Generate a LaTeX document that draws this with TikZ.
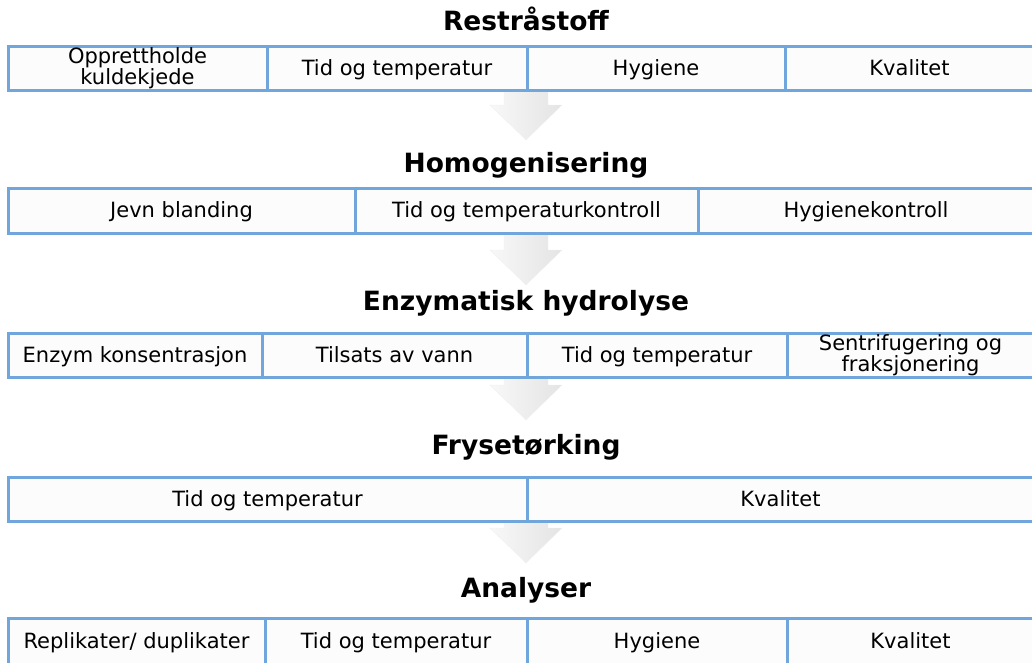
\documentclass[tikz,border=0pt]{standalone}
\usepackage{fontspec}
\setmainfont{DejaVu Sans}
\definecolor{cellline}{RGB}{112,166,219}
\definecolor{cellfill}{RGB}{252,252,252}
\definecolor{arrowlight}{RGB}{248,248,248}
\definecolor{arrowdark}{RGB}{228,228,228}
\tikzset{
  cell/.style={draw=cellline, line width=3pt, fill=cellfill, inner sep=0pt,
    minimum height=44pt, align=center, text=black,
    font=\fontsize{21}{21}\selectfont,
    text height=17.5pt, text depth=3pt},
  twoline/.style={text height=, text depth=,
    execute at begin node=\rule{0pt}{17pt},
    execute at end node=\rule[-3pt]{0pt}{3pt}},
  stage/.style={inner sep=0pt, text=black, font=\fontsize{26.5}{28}\selectfont\bfseries},
  flowarrow/.style={left color=arrowlight, right color=arrowdark, draw=white!94!black, line width=0.4pt}
}
% downward block arrow: #1 = top of shaft, #2 = tip
\newcommand{\blockarrow}[2]{%
  \path[flowarrow] (504,#1) -- (548,#1) -- (548,#2-35) -- (562,#2-35) -- (526,#2)
    -- (490,#2-35) -- (504,#2-35) -- cycle;}
\begin{document}
\begin{tikzpicture}[x=1pt,y=-1pt]
\useasboundingbox (0,0) rectangle (1032,662);

% arrows between the stages (behind the rows)
\blockarrow{88}{140}
\blockarrow{231}{285}
\blockarrow{375}{420}
\blockarrow{519}{563}

% stage 1
\node[stage] (t1) at (526,19) {Restråstoff};
\node[cell, twoline, minimum width=259pt] (c11) at (137.5,68) {Opprettholde\\kuldekjede};
\node[cell, minimum width=260pt] (c12) at (397,68) {Tid og temperatur};
\node[cell, minimum width=258pt] (c13) at (656,68) {Hygiene};
\node[cell, minimum width=249pt] (c14) at (909.5,68) {Kvalitet};

% stage 2
\node[stage] (t2) at (526,165) {Homogenisering};
\node[cell, minimum width=347pt, minimum height=45pt] (c21) at (181.5,210.5) {Jevn blanding};
\node[cell, minimum width=343pt, minimum height=45pt] (c22) at (526.5,210.5) {Tid og temperaturkontroll};
\node[cell, minimum width=336pt, minimum height=45pt] (c23) at (866,210.5) {Hygienekontroll};

% stage 3
\node[stage] (t3) at (526,303) {Enzymatisk hydrolyse};
\node[cell, minimum width=254pt] (c31) at (135,355) {Enzym konsentrasjon};
\node[cell, minimum width=265pt] (c32) at (394.5,355) {Tilsats av vann};
\node[cell, minimum width=260pt] (c33) at (657,355) {Tid og temperatur};
\node[cell, twoline, minimum width=247pt] (c34) at (910.5,355) {Sentrifugering og\\fraksjonering};

% stage 4
\node[stage] (t4) at (526,447) {Frysetørking};
\node[cell, minimum width=519pt] (c41) at (267.5,499) {Tid og temperatur};
\node[cell, minimum width=507pt] (c42) at (780.5,499) {Kvalitet};

% stage 5
\node[stage] (t5) at (526,590) {Analyser};
\node[cell, minimum width=257pt, minimum height=46pt] (c51) at (136.5,641) {Replikater/ duplikater};
\node[cell, minimum width=262pt, minimum height=46pt] (c52) at (396,641) {Tid og temperatur};
\node[cell, minimum width=260pt, minimum height=46pt] (c53) at (657,641) {Hygiene};
\node[cell, minimum width=247pt, minimum height=46pt] (c54) at (910.5,641) {Kvalitet};
\end{tikzpicture}
\end{document}
